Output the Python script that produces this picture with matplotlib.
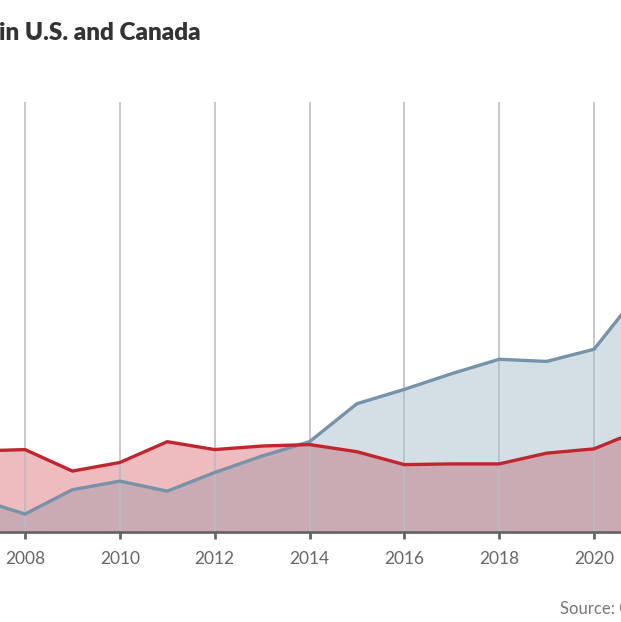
import matplotlib
matplotlib.use("Agg")
import matplotlib.pyplot as plt
import numpy as np
from matplotlib.patches import Polygon

years = [2007, 2008, 2009, 2010, 2011, 2012, 2013, 2014, 2015, 2016, 2017, 2018, 2019, 2020, 2021]
blue_vals = [4.6, 2.5, 5.9, 7.1, 5.7, 8.3, 10.6, 12.6, 17.9, 19.9, 22.1, 24.1, 23.8, 25.5, 33.8]
red_vals = [11.3, 11.5, 8.5, 9.7, 12.6, 11.5, 12.0, 12.2, 11.2, 9.4, 9.5, 9.5, 11.0, 11.6, 14.3]
tick_years = [2008, 2010, 2012, 2014, 2016, 2018, 2020]
title_text = "in U.S. and Canada"
source_text = "Source: Company reports"

plt.rcParams['font.family'] = ['Lato', 'DejaVu Sans']

W, H = 621, 622
fig = plt.figure(figsize=(W / 100, H / 100), dpi=100)
ax = fig.add_axes([0, 90 / H, 1, 430 / H])

x = np.array(years, dtype=float)
b = np.array(blue_vals)
r = np.array(red_vals)

blue_fill = "#d4dee5"
red_fill = "#eebbbf"
over_fill = "#cbabb3"
blue_line = "#7593a9"
red_line = "#c1252e"

ax.fill_between(x, 0, b, color=blue_fill, lw=0, zorder=1)
ax.fill_between(x, 0, r, color=red_fill, lw=0, zorder=1.1)
clip = Polygon(np.column_stack([np.r_[x, x[::-1]], np.r_[r, np.zeros_like(r)]]),
               closed=True, transform=ax.transData, facecolor='none', edgecolor='none')
ax.add_patch(clip)
ov = ax.fill_between(x, 0, b, color=over_fill, lw=0, zorder=1.2)
ov.set_clip_path(clip)

for ty in tick_years:
    ax.axvline(ty, color="#b3bcc3", lw=1.1, zorder=1.5)

ax.plot(x, b, color=blue_line, lw=2.4, zorder=3, solid_joinstyle='miter')
ax.plot(x, r, color=red_line, lw=2.4, zorder=3.1, solid_joinstyle='miter')

ax.set_xlim(2007.473, 2020.569)
ax.set_ylim(0, 60)
ax.set_xticks(tick_years)
ax.set_xticklabels([str(t) for t in tick_years])
ax.set_yticks([])
for s in ['left', 'right', 'top']:
    ax.spines[s].set_visible(False)
ax.spines['bottom'].set_color("#666666")
ax.spines['bottom'].set_linewidth(2)
ax.spines['bottom'].set_zorder(4)
ax.tick_params(axis='x', length=5, width=2, color="#666666", pad=9,
               labelsize=12.5, labelcolor="#666666")
ax.set_facecolor("none")

fig.text(-0.001, (H - 40) / H, title_text, fontsize=17.5, fontweight='heavy',
         color="#333333", va='baseline', ha='left')
fig.text(560 / W, (H - 614) / H, source_text, fontsize=12, color="#777777",
         va='baseline', ha='left')

fig.savefig("out.png", dpi=100)
